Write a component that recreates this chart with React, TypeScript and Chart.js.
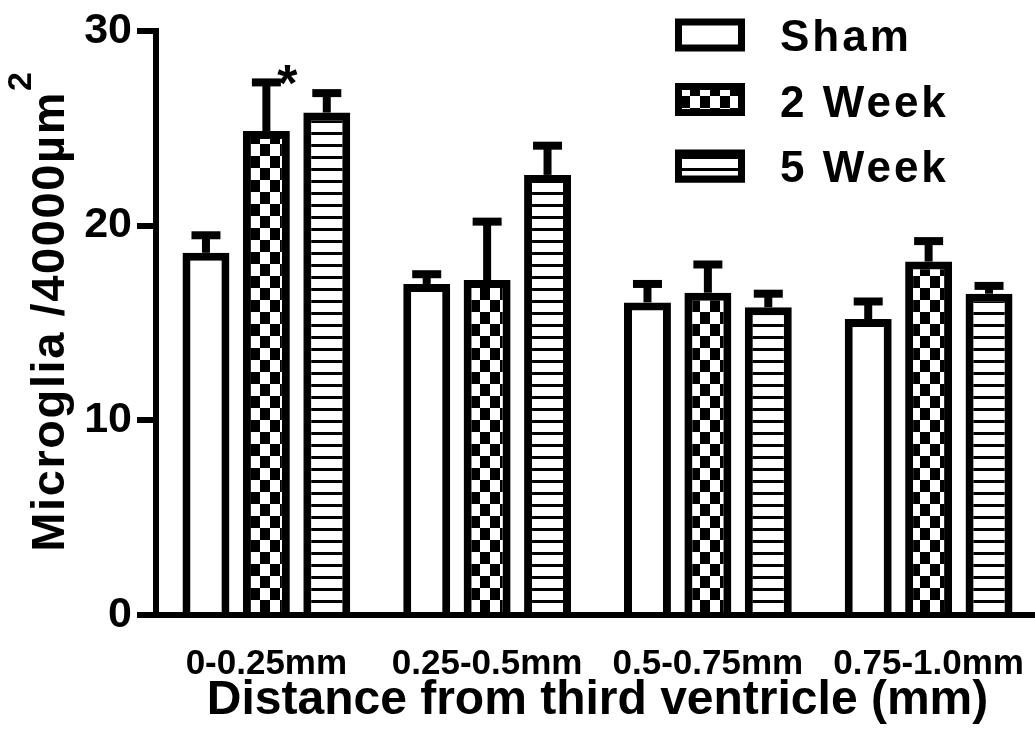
import { useEffect, useRef } from "react";
import { Chart, registerables } from "chart.js";

Chart.register(...registerables);

// Microglia counts per 40000 µm² by distance band, mean and SEM
const categories = ["0-0.25mm", "0.25-0.5mm", "0.5-0.75mm", "0.75-1.0mm"];
const seriesNames = ["Sham", "2 Week", "5 Week"];
const shamMean = [18.6, 17.0, 16.05, 15.2];
const shamSem = [0.9, 0.5, 0.95, 0.9];
const week2Mean = [24.85, 17.2, 16.55, 18.15];
const week2Sem = [2.5, 3.0, 1.45, 1.05];
const week5Mean = [25.8, 22.6, 15.8, 16.5];
const week5Sem = [1.0, 1.5, 0.7, 0.4];
const yTicks = [0, 10, 20, 30];
const significance = [{ series: 1, category: 0, mark: "*" }];

const FONT = "'Liberation Sans', Arial, Helvetica, sans-serif";
const errors = [shamSem, week2Sem, week5Sem];

function makeChecker(): CanvasPattern | string {
  const c = document.createElement("canvas");
  c.width = 20;
  c.height = 24;
  const g = c.getContext("2d");
  if (!g) return "#888";
  g.fillStyle = "#fff";
  g.fillRect(0, 0, 20, 24);
  g.fillStyle = "#000";
  g.fillRect(0, 0, 10, 12);
  g.fillRect(10, 12, 10, 12);
  return g.createPattern(c, "repeat") || "#888";
}

function makeStripes(): CanvasPattern | string {
  const c = document.createElement("canvas");
  c.width = 12;
  c.height = 12;
  const g = c.getContext("2d");
  if (!g) return "#ccc";
  g.fillStyle = "#fff";
  g.fillRect(0, 0, 12, 12);
  g.fillStyle = "#000";
  g.fillRect(0, 0, 12, 3);
  return g.createPattern(c, "repeat") || "#ccc";
}

// upper SEM whiskers with caps
const errorBarPlugin = {
  id: "errorBars",
  afterDatasetsDraw(chart: any) {
    const { ctx } = chart;
    const y = chart.scales.y;
    ctx.save();
    ctx.strokeStyle = "#000";
    ctx.lineWidth = 8;
    ctx.lineCap = "butt";
    chart.data.datasets.forEach((ds: any, i: number) => {
      const meta = chart.getDatasetMeta(i);
      meta.data.forEach((bar: any, j: number) => {
        const v = ds.data[j];
        const top = y.getPixelForValue(v + errors[i][j]);
        const base = y.getPixelForValue(v);
        ctx.beginPath();
        ctx.moveTo(bar.x, base);
        ctx.lineTo(bar.x, top);
        ctx.stroke();
        ctx.beginPath();
        ctx.moveTo(bar.x - 14.5, top);
        ctx.lineTo(bar.x + 14.5, top);
        ctx.stroke();
      });
    });
    ctx.restore();
  },
};

// significance marks beside the whisker cap
const significancePlugin = {
  id: "significance",
  afterDatasetsDraw(chart: any) {
    const { ctx } = chart;
    const y = chart.scales.y;
    const fs = 52;
    ctx.save();
    ctx.fillStyle = "#000";
    ctx.font = `bold ${fs}px ${FONT}`;
    ctx.textAlign = "center";
    ctx.textBaseline = "alphabetic";
    significance.forEach((s) => {
      const bar = chart.getDatasetMeta(s.series).data[s.category];
      const ds = chart.data.datasets[s.series];
      const capY = y.getPixelForValue(ds.data[s.category] + errors[s.series][s.category]);
      ctx.fillText(s.mark, bar.x + 21, capY - 11 + 0.56 * fs);
    });
    ctx.restore();
  },
};

// boxed legend in the upper right of the plot
const legendPlugin = {
  id: "boxLegend",
  afterDraw(chart: any) {
    const { ctx, chartArea } = chart;
    ctx.save();
    const boxX = chartArea.right - 364;
    const boxRows = [35, 99.5, 166];
    const textRows = [35.5, 101.5, 166.5];
    const fs = 44;
    chart.data.datasets.forEach((ds: any, i: number) => {
      const cy = boxRows[i];
      const w = 70;
      const h = 33;
      ctx.fillStyle = ds.backgroundColor;
      ctx.fillRect(boxX, cy - h / 2, w, h);
      ctx.strokeStyle = "#000";
      ctx.lineWidth = 7;
      ctx.strokeRect(boxX + 3.5, cy - h / 2 + 3.5, w - 7, h - 7);
      ctx.fillStyle = "#000";
      ctx.font = `bold ${fs}px ${FONT}`;
      (ctx as any).letterSpacing = "3px";
      ctx.textAlign = "left";
      ctx.textBaseline = "alphabetic";
      ctx.fillText(seriesNames[i], boxX + 105, textRows[i] + 0.358 * fs);
      (ctx as any).letterSpacing = "0px";
    });
    ctx.restore();
  },
};

// rotated y-axis title with a superscript exponent
const yTitlePlugin = {
  id: "yTitle",
  afterDraw(chart: any) {
    const { ctx, chartArea } = chart;
    const fs = 47;
    const sup = 34;
    const spacing = "1.6px";
    const main = "Microglia /40000µm";
    ctx.save();
    ctx.fillStyle = "#000";
    ctx.font = `bold ${fs}px ${FONT}`;
    (ctx as any).letterSpacing = spacing;
    const mainW = ctx.measureText(main).width;
    ctx.font = `bold ${sup}px ${FONT}`;
    (ctx as any).letterSpacing = "0px";
    const supW = ctx.measureText("2").width;
    const total = mainW + supW;
    const cx = 47 + 0.358 * fs;
    const cy = (chartArea.top + chartArea.bottom) / 2 - 11;
    ctx.translate(cx, cy);
    ctx.rotate(-Math.PI / 2);
    ctx.textAlign = "left";
    ctx.textBaseline = "alphabetic";
    ctx.font = `bold ${fs}px ${FONT}`;
    (ctx as any).letterSpacing = spacing;
    ctx.fillText(main, -total / 2, 0);
    (ctx as any).letterSpacing = "0px";
    ctx.font = `bold ${sup}px ${FONT}`;
    ctx.fillText("2", -total / 2 + mainW, -0.716 * fs + 1);
    ctx.restore();
  },
};

export default function App() {
  const ref = useRef<HTMLCanvasElement | null>(null);

  useEffect(() => {
    document.body.style.margin = "0";
    const canvas = ref.current;
    if (!canvas) return;
    const checker = makeChecker();
    const stripes = makeStripes();
    const common = {
      borderColor: "#000",
      borderWidth: 8,
      barPercentage: 0.777,
      categoryPercentage: 0.821,
    };
    const chart = new Chart(canvas, {
      type: "bar",
      data: {
        labels: categories,
        datasets: [
          { label: seriesNames[0], data: shamMean, backgroundColor: "#fff", ...common },
          { label: seriesNames[1], data: week2Mean, backgroundColor: checker as any, ...common },
          { label: seriesNames[2], data: week5Mean, backgroundColor: stripes as any, ...common },
        ],
      },
      options: {
        responsive: false,
        animation: false,
        devicePixelRatio: 1,
        layout: { padding: { left: 0, top: 30, right: 6, bottom: 0 } },
        plugins: {
          legend: { display: false },
          tooltip: { enabled: false },
        },
        scales: {
          x: {
            grid: { display: false },
            border: { display: true, color: "#000", width: 6 },
            ticks: {
              color: "#000",
              font: { family: FONT, size: 35, weight: "bold" },
              padding: 20,
              maxRotation: 0,
              autoSkip: false,
            },
            title: {
              display: true,
              text: "Distance from third ventricle (mm)",
              color: "#000",
              font: { family: FONT, size: 48, weight: "bold" },
              padding: { top: 0, bottom: 8 },
            },
            afterFit: (s: any) => {
              s.height = 123;
            },
          },
          y: {
            min: 0,
            max: 30,
            afterBuildTicks: (s: any) => {
              s.ticks = yTicks.map((v) => ({ value: v }));
            },
            grid: {
              drawOnChartArea: false,
              drawTicks: true,
              tickLength: 19,
              lineWidth: 6,
              color: "#000",
            },
            border: { display: true, color: "#000", width: 6 },
            ticks: {
              color: "#000",
              font: { family: FONT, size: 43, weight: "bold" },
              padding: 5,
            },
            afterFit: (s: any) => {
              s.width = 156;
            },
          },
        },
      },
      plugins: [errorBarPlugin, significancePlugin, legendPlugin, yTitlePlugin],
    });
    return () => chart.destroy();
  }, []);

  return (
    <div
      style={{
        position: "fixed",
        left: 0,
        top: 0,
        width: 1035,
        height: 738,
        overflow: "hidden",
        background: "#fff",
      }}
    >
      <canvas ref={ref} width={1045} height={738} style={{ display: "block" }} />
    </div>
  );
}
